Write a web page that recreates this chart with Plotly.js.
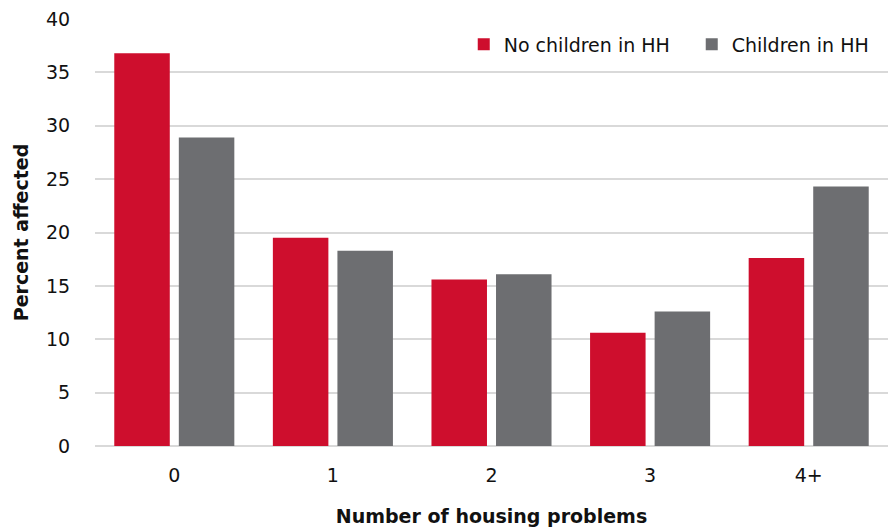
<!DOCTYPE html>
<html>
<head>
<meta charset="utf-8">
<script src="https://cdn.plot.ly/plotly-3.0.1.min.js"></script>
<style>html,body{margin:0;padding:0;background:#fff;}#chart{width:890px;height:528px;}</style>
</head>
<body>
<div id="chart"></div>
<script>
const categories = ["0", "1", "2", "3", "4+"];
const noChildren = [36.8, 19.5, 15.6, 10.6, 17.6];
const withChildren = [28.9, 18.3, 16.1, 12.6, 24.3];
const seriesNames = ["No children in HH", "Children in HH"];
const yTicks = [0, 5, 10, 15, 20, 25, 30, 35, 40];

const font = "'DejaVu Sans', sans-serif";
const data = [
  {type: "bar", name: seriesNames[0], x: categories, y: noChildren,
   marker: {color: "#CE0E2D"}, hoverinfo: "y"},
  {type: "bar", name: seriesNames[1], x: categories, y: withChildren,
   marker: {color: "#6D6E71"}, hoverinfo: "y"}
];
const layout = {
  width: 890, height: 528,
  margin: {l: 95, r: 2, t: 19, b: 82, autoexpand: false},
  paper_bgcolor: "#fff", plot_bgcolor: "#fff",
  font: {family: font, size: 19, color: "#111"},
  barmode: "group", bargap: 0.186, bargroupgap: 0.14,
  showlegend: true,
  legend: {orientation: "h", x: 0.465, xanchor: "left", y: 0.985, yanchor: "top",
           font: {family: font, size: 19, color: "#111"}, traceorder: "normal",
           itemwidth: 30, entrywidth: 183, bgcolor: "rgba(255,255,255,0)"},
  xaxis: {type: "category", showgrid: false, zeroline: false, showline: false,
          ticks: "outside", ticklen: 12, tickcolor: "rgba(0,0,0,0)",
          tickfont: {family: font, size: 19},
          title: {text: "<b>Number of housing problems</b>", standoff: 24,
                  font: {family: font, size: 19, color: "#111"}}},
  yaxis: {range: [0, 40], tickvals: yTicks, showgrid: true, gridcolor: "#d9d9d9", gridwidth: 2,
          zeroline: true, zerolinecolor: "#d9d9d9", zerolinewidth: 2, showline: false,
          ticks: "outside", ticklen: 20, tickcolor: "rgba(0,0,0,0)",
          tickfont: {family: font, size: 19},
          title: {text: "<b>Percent affected</b>", standoff: 12,
                  font: {family: font, size: 19, color: "#111"}}}
};
Plotly.newPlot("chart", data, layout, {displayModeBar: false, staticPlot: true});
</script>
</body>
</html>
